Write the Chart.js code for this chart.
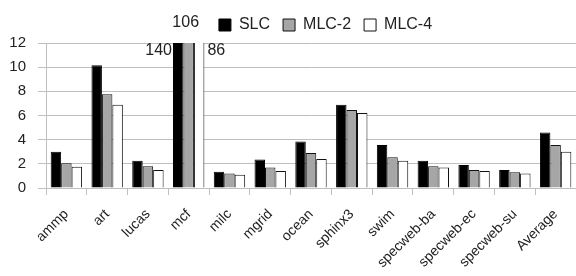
<!DOCTYPE html>
<html>
<head>
<meta charset="utf-8">
<script src="https://cdn.jsdelivr.net/npm/chart.js@4"></script>
<style>
  html, body { margin: 0; padding: 0; background: #fff; }
  #wrap { width: 576px; height: 276px; }
</style>
</head>
<body>
<div id="wrap"><canvas id="benchChart"></canvas></div>
<script>
const benchmarks = ['ammp', 'art', 'lucas', 'mcf', 'milc', 'mgrid', 'ocean', 'sphinx3', 'swim', 'specweb-ba', 'specweb-ec', 'specweb-su', 'Average'];
const slc  = [3.0, 10.15, 2.25, 140, 1.35, 2.35, 3.85, 6.9, 3.55, 2.25, 1.9, 1.5, 4.6];
const mlc2 = [2.05, 7.75, 1.8, 106, 1.2, 1.7, 2.9, 6.45, 2.55, 1.8, 1.5, 1.3, 3.55];
const mlc4 = [1.75, 6.9, 1.5, 86, 1.1, 1.4, 2.4, 6.2, 2.25, 1.7, 1.4, 1.2, 3.0];
const yTicksMax = 12;

// values that run off the top get their number written next to the bar
const overflowLabels = {
  id: 'overflowLabels',
  afterDatasetsDraw(chart) {
    const ctx = chart.ctx;
    const top = chart.chartArea.top;
    ctx.save();
    ctx.fillStyle = '#222';
    ctx.font = '16px "Liberation Sans", Arial, sans-serif';
    ctx.textBaseline = 'middle';
    chart.data.datasets.forEach((ds, i) => {
      const meta = chart.getDatasetMeta(i);
      ds.data.forEach((v, j) => {
        if (v <= yTicksMax) return;
        const bar = meta.data[j];
        const half = bar.width / 2;
        if (i === 0) {
          ctx.textAlign = 'right';
          ctx.fillText(String(v), bar.x - half - 1, top + 8);
        } else if (i === 1) {
          ctx.textAlign = 'center';
          ctx.fillText(String(v), bar.x - 3, top - 20);
        } else {
          ctx.textAlign = 'left';
          ctx.fillText(String(v), bar.x + half + 3, top + 8);
        }
      });
    });
    ctx.restore();
  }
};

// nudge the legend to the right, as in the original figure
const legendShift = {
  id: 'legendShift',
  beforeDraw(chart) {
    chart.legend.left += 33;
    chart.legend.right += 33;
  }
};

const ctx = document.getElementById('benchChart').getContext('2d');
new Chart(ctx, {
  type: 'bar',
  data: {
    labels: benchmarks,
    datasets: [
      { label: 'SLC', data: slc, backgroundColor: '#000000', borderColor: '#000000', borderWidth: 1 },
      { label: 'MLC-2', data: mlc2, backgroundColor: '#a6a6a6', borderColor: '#111111', borderWidth: 1 },
      { label: 'MLC-4', data: mlc4, backgroundColor: '#ffffff', borderColor: '#111111', borderWidth: 1 }
    ]
  },
  options: {
    responsive: true,
    maintainAspectRatio: false,
    animation: false,
    devicePixelRatio: 1,
    datasets: { bar: { categoryPercentage: 0.77, barPercentage: 1.0 } },
    layout: { padding: { left: 9, right: 0, top: 4, bottom: 4 } },
    plugins: {
      legend: {
        position: 'top',
        labels: {
          boxWidth: 12,
          boxHeight: 12,
          padding: 13,
          color: '#222',
          font: { family: '"Liberation Sans", Arial, sans-serif', size: 16 }
        }
      },
      tooltip: { enabled: false }
    },
    scales: {
      x: {
        afterFit(scale) {
          scale.height = 84;
          scale.paddingLeft = 0;
          scale.paddingRight = 0;
        },
        grid: { offset: true, drawOnChartArea: false, tickLength: 7, color: '#bfbfbf' },
        border: { color: '#bfbfbf' },
        ticks: {
          autoSkip: false,
          maxRotation: 45,
          minRotation: 45,
          padding: 11,
          color: '#222',
          font: { family: '"Liberation Sans", Arial, sans-serif', size: 14 }
        }
      },
      y: {
        afterFit(scale) {
          scale.width = 37;
        },
        min: 0,
        max: yTicksMax,
        grid: { color: '#bfbfbf', tickLength: 8 },
        border: { color: '#bfbfbf' },
        ticks: {
          stepSize: 2,
          padding: 12,
          color: '#222',
          font: { family: '"Liberation Sans", Arial, sans-serif', size: 15 }
        }
      }
    }
  },
  plugins: [overflowLabels, legendShift]
});
</script>
</body>
</html>
